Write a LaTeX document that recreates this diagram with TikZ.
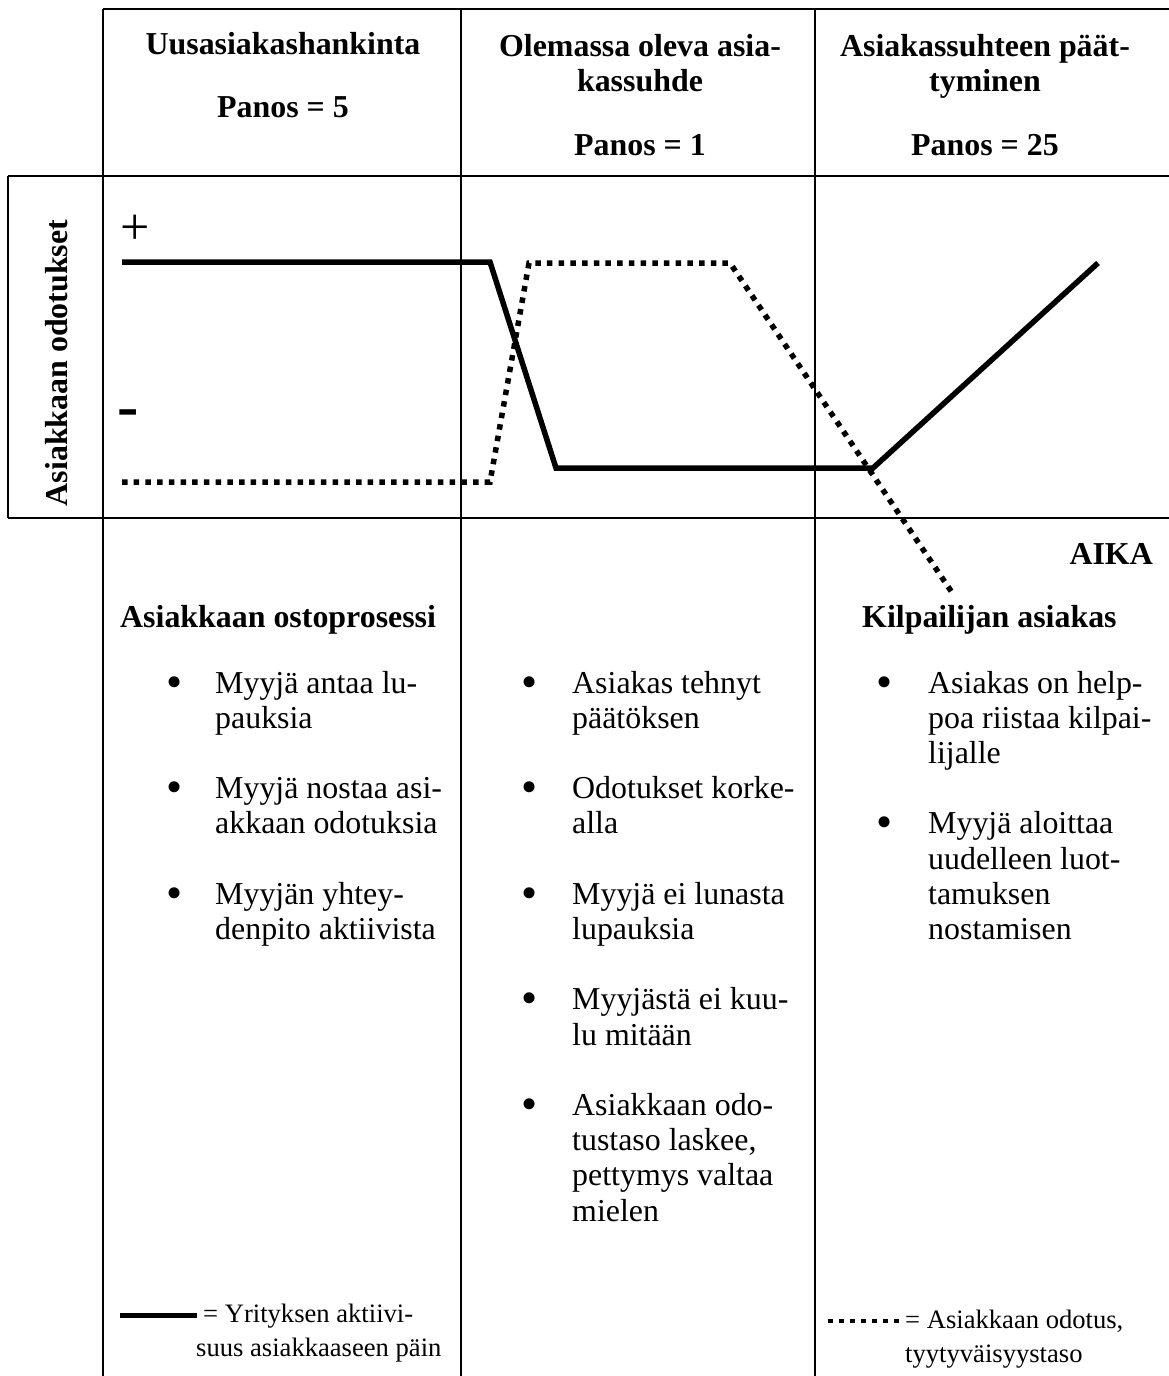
\documentclass[tikz,border=0pt]{standalone}
\usepackage{fontspec}
\setmainfont{Liberation Serif}
\usetikzlibrary{positioning}
\newcommand\bodysize{\fontsize{31.9}{35.2}\selectfont}
\newcommand\legendsize{\fontsize{26.6}{34}\selectfont}
\tikzset{
  %% Table rule
  rule/.style={draw=black, line width=2.6pt},
  %% Heading of a phase column (base = last line)
  headtxt/.style={anchor=base, align=center, inner sep=0pt,
                  font=\bodysize\bfseries},
  %% Sub heading under the chart
  subhead/.style={anchor=base west, inner sep=0pt,
                  font=\bodysize\bfseries},
  %% Bullet and its text (text base = last line)
  bul/.style={anchor=base, inner sep=0pt,
              font=\fontsize{46}{46}\selectfont},
  itemtxt/.style={anchor=base west, align=left, inner sep=0pt,
                  font=\bodysize},
  %% Curves
  activity/.style={draw=black, line width=5.5pt},
  expect/.style={draw=black, line width=5.5pt,
                 dash pattern=on 5.5pt off 6.2pt},
  %% Legend
  legtxt/.style={anchor=base west, align=left, inner sep=0pt,
                 font=\legendsize},
}
\begin{document}
\begin{tikzpicture}[x=1pt, y=-1pt]
  \useasboundingbox (0,0) rectangle (1169,1376);

  %% table
  \draw[rule] (103,9) -- (1169,9);
  \draw[rule] (8,176) -- (1169,176);
  \draw[rule] (8,518) -- (1169,518);
  \draw[rule] (8,176) -- (8,518);
  \draw[rule] (103,9) -- (103,1376);
  \draw[rule] (461,9) -- (461,1376);
  \draw[rule] (815,9) -- (815,1376);

  %% phase headings
  \node[headtxt] (h1) at (283,117)
       {Uusasiakashankinta\\[27pt]Panos = 5};
  \node[headtxt] (h2) at (640,155)
       {Olemassa oleva asia-\\kassuhde\\[28pt]Panos = 1};
  \node[headtxt] (h3) at (985,155)
       {Asiakassuhteen päät-\\tyminen\\[28pt]Panos = 25};

  %% chart
  \node[anchor=base, rotate=90, inner sep=0pt, font=\bodysize\bfseries]
       (yaxis) at (67,363) {Asiakkaan odotukset};
  \node[font=\fontsize{52}{52}\selectfont, inner sep=0pt]
       (plus) at (135,230) {+};
  \node[font=\fontsize{64}{64}\selectfont\bfseries, inner sep=0pt]
       (minus) at (128,419) {-};
  \node[anchor=base east, inner sep=0pt, font=\bodysize\bfseries]
       (aika) at (1153,564) {AIKA};

  \coordinate (a1) at (122,262);
  \coordinate (a2) at (490,262);
  \coordinate (a3) at (556,468);
  \coordinate (a4) at (873,468);
  \coordinate (a5) at (1098,263);
  \draw[activity] (a1) -- (a2) -- (a3) -- (a4) -- (a5);

  \coordinate (e1) at (122,482);
  \coordinate (e2) at (490,482);
  \coordinate (e3) at (529,263);
  \coordinate (e4) at (730,263);
  \coordinate (e5) at (953,594);
  \draw[expect] (e1) -- (e2) -- (e3) -- (e4) -- (e5);

  %% column 1
  \node[subhead] (s1) at (120,627) {Asiakkaan ostoprosessi};
  \node[bul] (b11) at (175,697) {\textbullet};
  \node[itemtxt] (t11) at (215,728.2) {Myyjä antaa lu-\\pauksia};
  \node[bul] (b12) at (175,802.6) {\textbullet};
  \node[itemtxt] (t12) at (215,833.8) {Myyjä nostaa asi-\\akkaan odotuksia};
  \node[bul] (b13) at (175,908.2) {\textbullet};
  \node[itemtxt] (t13) at (215,939.4) {Myyjän yhtey-\\denpito aktiivista};

  %% column 2
  \node[bul] (b21) at (530,697) {\textbullet};
  \node[itemtxt] (t21) at (572,728.2) {Asiakas tehnyt\\päätöksen};
  \node[bul] (b22) at (530,802.6) {\textbullet};
  \node[itemtxt] (t22) at (572,833.8) {Odotukset korke-\\alla};
  \node[bul] (b23) at (530,908.2) {\textbullet};
  \node[itemtxt] (t23) at (572,939.4) {Myyjä ei lunasta\\lupauksia};
  \node[bul] (b24) at (530,1013.8) {\textbullet};
  \node[itemtxt] (t24) at (572,1045) {Myyjästä ei kuu-\\lu mitään};
  \node[bul] (b25) at (530,1119.4) {\textbullet};
  \node[itemtxt] (t25) at (572,1221)
       {Asiakkaan odo-\\tustaso laskee,\\pettymys valtaa\\mielen};

  %% column 3
  \node[subhead] (s3) at (862,627) {Kilpailijan asiakas};
  \node[bul] (b31) at (885,697) {\textbullet};
  \node[itemtxt] (t31) at (928,763.4)
       {Asiakas on help-\\poa riistaa kilpai-\\lijalle};
  \node[bul] (b32) at (885,837.8) {\textbullet};
  \node[itemtxt] (t32) at (928,939.4)
       {Myyjä aloittaa\\uudelleen luot-\\tamuksen\\nostamisen};

  %% legend
  \coordinate (la) at (120,1315);
  \coordinate (lb) at (197,1315);
  \draw[activity, line width=5pt] (la) -- (lb);
  \node[legtxt] (l1) at (196,1356)
       {\hspace{7pt}= Yrityksen aktiivi-\\suus asiakkaaseen päin};

  \coordinate (lc) at (828,1321);
  \coordinate (ld) at (904,1321);
  \draw[expect, line width=4.5pt, dash pattern=on 5pt off 6pt] (lc) -- (ld);
  \node[legtxt] (l2) at (905,1362)
       {= Asiakkaan odotus,\\tyytyväisyystaso};
\end{tikzpicture}
\end{document}
